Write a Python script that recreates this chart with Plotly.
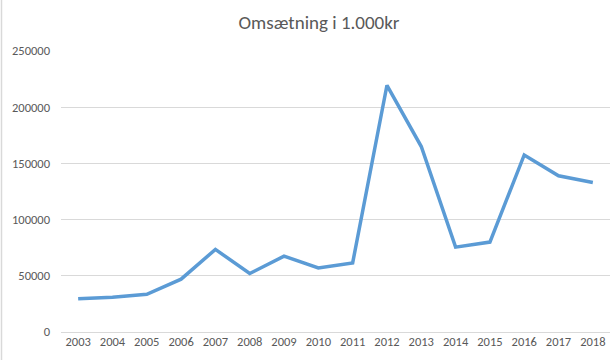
import plotly.graph_objects as go

years = [str(y) for y in range(2003, 2019)]
omsaetning = [29500, 31000, 33500, 47000, 73500, 52000, 67500, 57000, 61500,
              219500, 165000, 75500, 80000, 157500, 139000, 133000]
y_ticks = [0, 50000, 100000, 150000, 200000, 250000]

W, H = 616, 360
L, R, T, B = 61, 6, 51, 28
px_x = lambda p: (p - L) / (W - L - R)

fig = go.Figure()
fig.add_trace(go.Scatter(
    x=years, y=omsaetning, mode="lines",
    line=dict(color="#5B9BD5", width=3.5),
    hoverinfo="x+y", showlegend=False,
))

fig.update_layout(
    width=W, height=H,
    paper_bgcolor="white", plot_bgcolor="white",
    margin=dict(l=L, r=R, t=T, b=B),
    title=dict(text="Omsætning i 1.000kr", x=319 / W, xanchor="center", y=1 - 22 / H, yanchor="middle",
               font=dict(family="Carlito, Lato, sans-serif", size=19, color="#595959")),
    font=dict(family="Carlito, Lato, sans-serif", size=12, color="#595959"),
    xaxis=dict(type="category", showgrid=False, showline=False, ticks="",
               range=[-0.5, 15.5], tickfont=dict(size=12.5, color="#595959")),
    yaxis=dict(range=[0, 250000], tickvals=y_ticks, ticktext=[str(v) for v in y_ticks],
               showgrid=True, gridcolor="#D9D9D9", gridwidth=1, zeroline=True,
               zerolinecolor="#D9D9D9", zerolinewidth=1, showline=False, ticks="",
               ticklabelstandoff=10, tickfont=dict(size=12.5, color="#595959")),
    shapes=[dict(type="line", xref="paper", yref="paper",
                 x0=px_x(1.5), x1=px_x(1.5), y0=-B / (H - T - B), y1=1 + T / (H - T - B),
                 line=dict(color="#D9D9D9", width=1.5))],
)

fig.write_html("out.html", config={"displayModeBar": False},
               post_script="document.body.style.margin='0';")
